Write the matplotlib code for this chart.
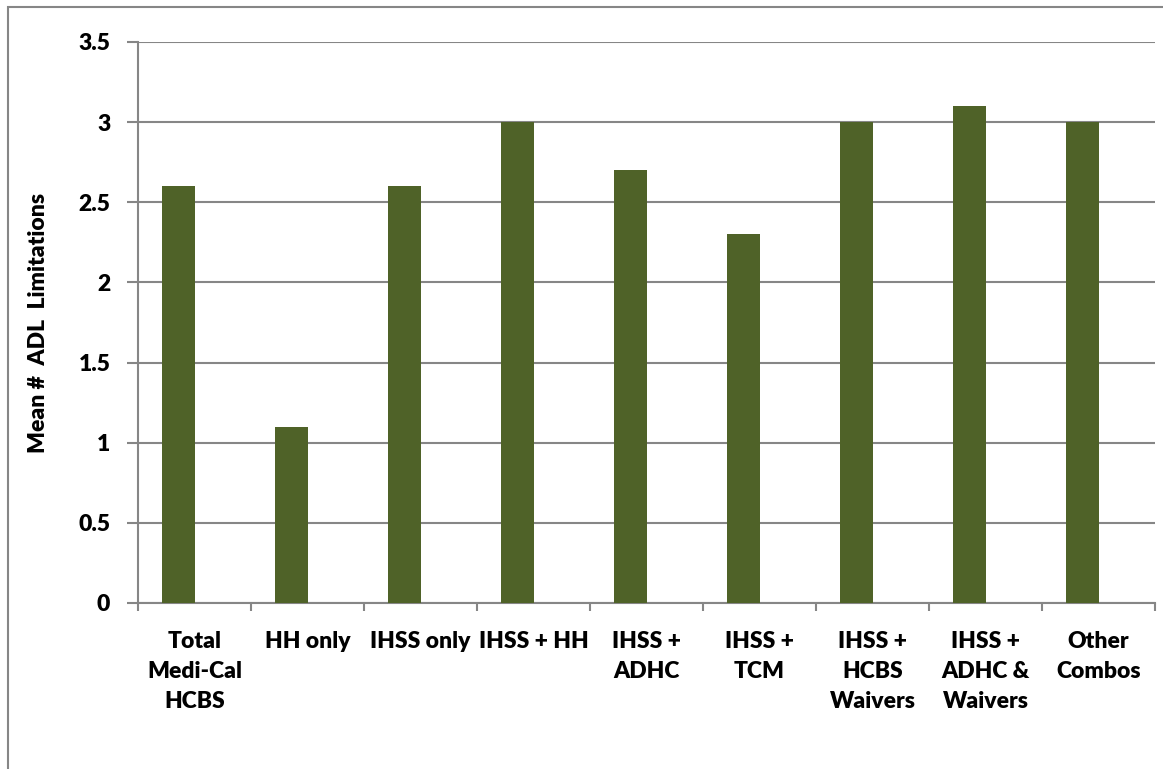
import matplotlib
matplotlib.use('Agg')
from matplotlib import pyplot as plt
from matplotlib.patches import Rectangle
import numpy as np

plt.rcParams['font.family'] = ['Lato', 'DejaVu Sans']
plt.rcParams['font.weight'] = 'heavy'

categories = ['Total\nMedi-Cal\nHCBS', 'HH only', 'IHSS only', 'IHSS + HH',
              'IHSS +\nADHC', 'IHSS +\nTCM', 'IHSS +\nHCBS\nWaivers',
              'IHSS +\nADHC &\nWaivers', 'Other\nCombos']
mean_adl = [2.6, 1.1, 2.6, 3.0, 2.7, 2.3, 3.0, 3.1, 3.0]
yticks = [0, 0.5, 1, 1.5, 2, 2.5, 3, 3.5]
ytick_labels = ['0', '0.5', '1', '1.5', '2', '2.5', '3', '3.5']

bar_color = '#4F6228'
grid_color = '#868686'
fs = 16.5

fig = plt.figure(figsize=(11.63, 7.69), dpi=100)
# chart border (right and bottom edges fall outside the image)
fig.patches.append(Rectangle((0.007, -0.1), 1.2, 1.091, transform=fig.transFigure,
                             fill=False, edgecolor=grid_color, linewidth=1.5))
ax = fig.add_axes([0.1187, 0.2159, 0.8745, 0.7295])

x = np.arange(len(categories))
ax.bar(x - 0.145, mean_adl, width=0.29, color=bar_color, zorder=3)

ax.set_xlim(-0.5, len(categories) - 0.5)
ax.set_ylim(0, 3.5)
ax.set_yticks(yticks)
ax.set_yticklabels(ytick_labels, fontsize=fs, fontweight='heavy')
ax.yaxis.grid(True, color=grid_color, linewidth=1.5, zorder=0)

ax.set_xticks(x)
ax.set_xticklabels(categories, fontsize=fs, fontweight='heavy', linespacing=1.55)
ax.set_xticks(np.arange(len(categories) + 1) - 0.5, minor=True)
ax.tick_params(axis='x', which='major', length=0, pad=20)
ax.tick_params(axis='x', which='minor', length=6, width=1.5, color=grid_color)
ax.tick_params(axis='y', length=8, width=1.5, color=grid_color, pad=12)

for side in ['top', 'right']:
    ax.spines[side].set_visible(False)
for side in ['left', 'bottom']:
    ax.spines[side].set_color(grid_color)
    ax.spines[side].set_linewidth(1.5)

ax.set_ylabel('Mean #  ADL  Limitations', fontsize=fs, fontweight='heavy')
ax.yaxis.set_label_coords(-0.088, 0.5)

fig.savefig('out.png', dpi=100)
